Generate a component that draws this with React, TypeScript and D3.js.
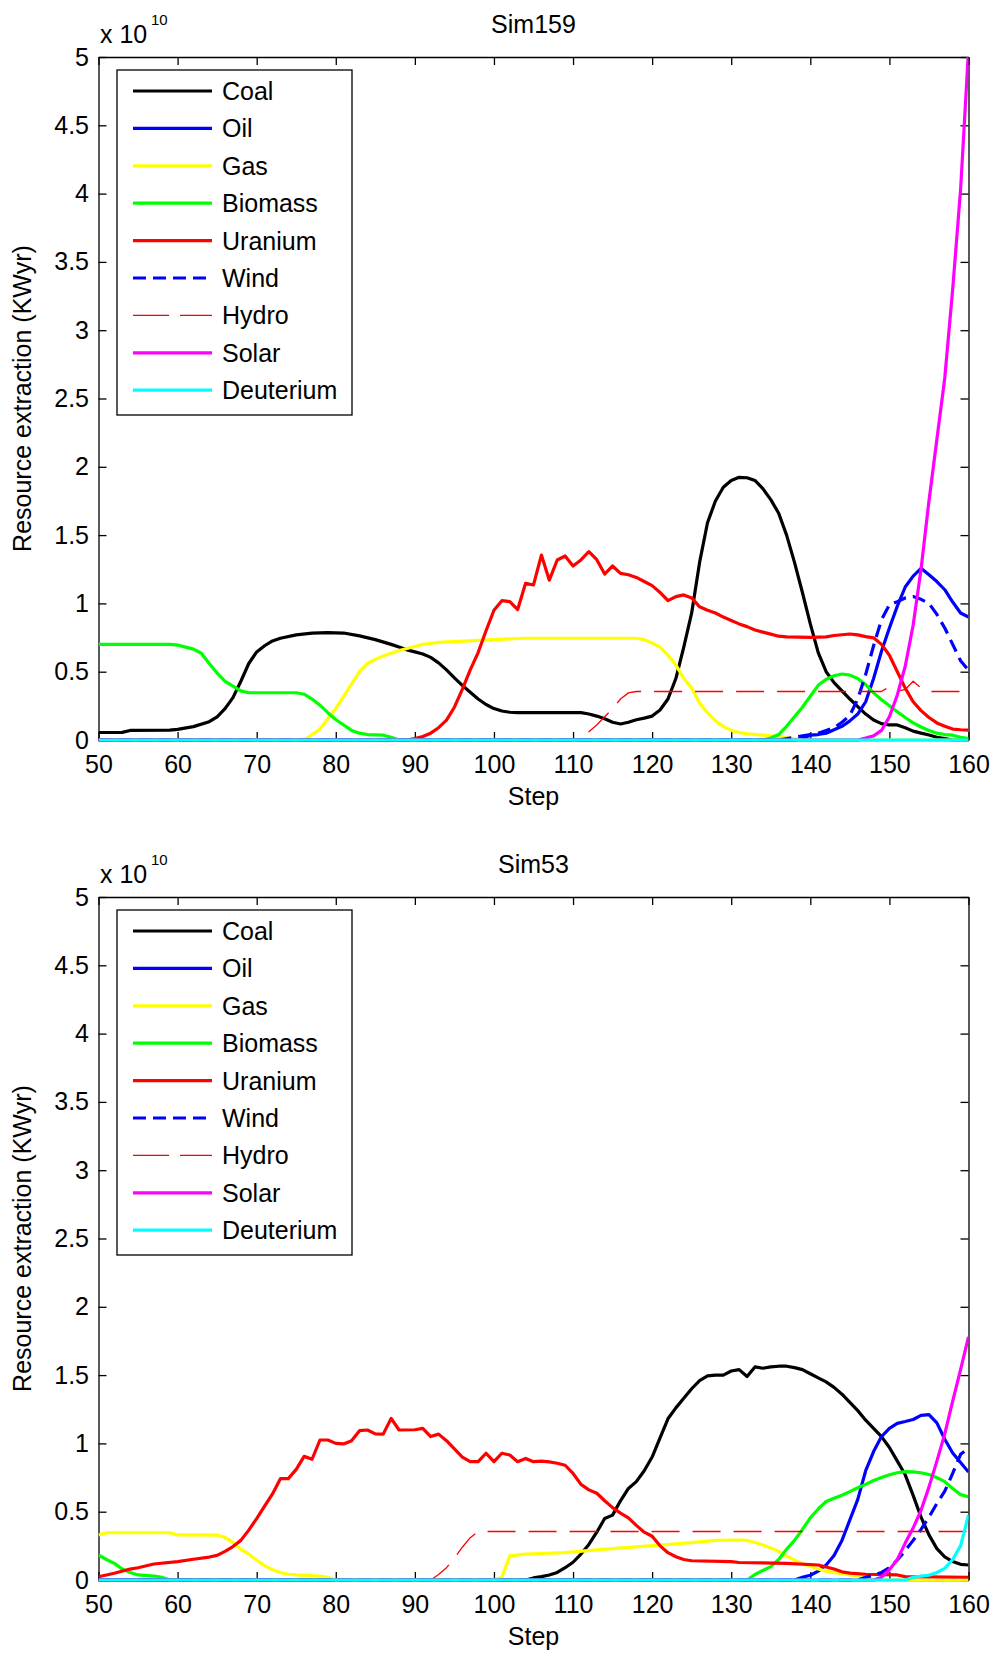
import * as d3 from "d3";
import { useRef, useEffect } from "react";

type Pt = [number, number];

const xTicks = [50, 60, 70, 80, 90, 100, 110, 120, 130, 140, 150, 160];
const yTicks = [0, 0.5, 1, 1.5, 2, 2.5, 3, 3.5, 4, 4.5, 5];
const seriesNames = ["Coal", "Oil", "Gas", "Biomass", "Uranium", "Wind", "Hydro", "Solar", "Deuterium"];

// ---- Sim159 (values in units of 1e10 KWyr) ----
const coal159: Pt[] = [[50,0.055],[53,0.056],[54,0.07],[59,0.072],[60,0.078],[62,0.098],[64,0.134],[65,0.17],[66,0.23],[67,0.31],[68,0.43],[69,0.56],[70,0.645],[71,0.69],[72,0.725],[73,0.745],[75,0.77],[77,0.782],[79,0.786],[81,0.783],[83,0.762],[85,0.735],[87,0.7],[88,0.68],[89,0.66],[90,0.645],[91,0.63],[92,0.605],[93,0.565],[94,0.513],[95,0.455],[96,0.4],[97,0.35],[98,0.3],[99,0.26],[100,0.23],[101,0.212],[102,0.203],[103,0.2],[111,0.2],[112,0.19],[113,0.175],[114,0.155],[115,0.13],[116,0.117],[117,0.13],[118,0.148],[119,0.16],[120,0.175],[121,0.22],[122,0.3],[123,0.45],[124,0.68],[125,0.93],[126,1.3],[127,1.59],[128,1.75],[129,1.85],[130,1.9],[131,1.923],[132,1.92],[133,1.9],[134,1.84],[135,1.76],[136,1.66],[137,1.5],[138,1.3],[139,1.08],[140,0.85],[141,0.64],[142,0.5],[143,0.42],[144,0.36],[145,0.3],[146,0.244],[147,0.19],[148,0.146],[149,0.12],[150,0.11],[151,0.11],[152,0.09],[153,0.065],[154,0.05],[155,0.037],[156,0.02],[157,0.01],[158,0],[160,0]];
const oil159: Pt[] = [[50,0],[138,0],[139,0.01],[140,0.035],[141,0.04],[142,0.05],[143,0.075],[144,0.1],[145,0.14],[146,0.19],[147,0.28],[148,0.45],[149,0.65],[150,0.82],[151,0.98],[152,1.12],[153,1.2],[154,1.257],[155,1.21],[156,1.16],[157,1.1],[158,1.01],[159,0.93],[160,0.9]];
const gas159: Pt[] = [[50,0],[76,0],[77,0.04],[78,0.08],[79,0.155],[80,0.23],[81,0.32],[82,0.41],[83,0.5],[84,0.56],[85,0.59],[86,0.615],[87,0.635],[88,0.655],[89,0.67],[90,0.685],[91,0.7],[93,0.715],[98,0.73],[104,0.745],[118,0.745],[119,0.735],[120,0.71],[121,0.68],[122,0.62],[123,0.55],[124,0.45],[125,0.38],[126,0.27],[127,0.2],[128,0.14],[129,0.1],[130,0.07],[131,0.055],[132,0.045],[134,0.035],[136,0.025],[138,0.01],[139,0],[160,0]];
const biomass159: Pt[] = [[50,0.7],[59,0.7],[60,0.695],[61,0.68],[62,0.665],[63,0.635],[64,0.56],[65,0.49],[66,0.43],[67,0.395],[68,0.36],[69,0.346],[75,0.346],[76,0.335],[77,0.3],[78,0.255],[79,0.2],[80,0.15],[81,0.11],[82,0.07],[83,0.05],[84,0.04],[86,0.035],[87,0.02],[88,0],[134,0],[135,0.015],[136,0.04],[137,0.1],[138,0.17],[139,0.24],[140,0.32],[141,0.4],[142,0.445],[143,0.47],[144,0.483],[145,0.475],[146,0.45],[147,0.405],[148,0.345],[149,0.295],[150,0.25],[151,0.207],[152,0.165],[153,0.125],[154,0.095],[155,0.07],[156,0.05],[157,0.04],[158,0.035],[159,0.02],[160,0.01]];
const uranium159: Pt[] = [[50,0],[89,0],[90,0.01],[91,0.025],[92,0.05],[93,0.09],[94,0.146],[95,0.24],[96,0.37],[97,0.513],[98,0.64],[99,0.8],[100,0.95],[101,1.02],[102,1.013],[103,0.955],[104,1.147],[105,1.135],[106,1.354],[107,1.17],[108,1.318],[109,1.347],[110,1.274],[111,1.318],[112,1.379],[113,1.32],[114,1.215],[115,1.274],[116,1.22],[117,1.21],[118,1.19],[119,1.16],[120,1.13],[121,1.08],[122,1.02],[123,1.05],[124,1.062],[125,1.04],[126,0.975],[127,0.95],[128,0.93],[129,0.9],[130,0.875],[131,0.85],[132,0.83],[133,0.805],[134,0.79],[135,0.775],[136,0.76],[137,0.755],[140,0.752],[142,0.755],[143,0.765],[145,0.776],[146,0.77],[147,0.757],[148,0.748],[149,0.7],[150,0.62],[151,0.5],[152,0.38],[153,0.28],[154,0.215],[155,0.165],[156,0.125],[157,0.1],[158,0.08],[159,0.075],[160,0.073]];
const wind159: Pt[] = [[50,0],[136,0],[138,0.02],[140,0.04],[141,0.05],[142,0.07],[143,0.09],[144,0.13],[145,0.18],[146,0.3],[147,0.48],[148,0.69],[149,0.88],[150,0.99],[151,1.013],[152,1.04],[153,1.05],[154,1.03],[155,1.0],[156,0.92],[157,0.82],[158,0.7],[159,0.58],[160,0.51]];
const hydro159: Pt[] = [[50,0],[110,0],[111,0.02],[112,0.06],[113,0.11],[114,0.17],[115,0.23],[116,0.3],[117,0.345],[118,0.355],[149,0.355],[150,0.39],[151,0.355],[152,0.37],[153,0.43],[154,0.38],[155,0.355],[160,0.355]];
const solar159: Pt[] = [[50,0],[146,0],[147,0.015],[148,0.03],[149,0.07],[150,0.17],[151,0.33],[152,0.54],[153,0.84],[154,1.25],[155,1.75],[156,2.2],[157,2.65],[158,3.3],[159,4.03],[160,5.05]];
const deuterium159: Pt[] = [[50,0],[160,0]];

// ---- Sim53 ----
const coal53: Pt[] = [[50,0],[104,0],[105,0.015],[106,0.025],[107,0.037],[108,0.055],[109,0.09],[110,0.13],[111,0.19],[112,0.26],[113,0.35],[114,0.45],[115,0.475],[116,0.58],[117,0.67],[118,0.72],[119,0.8],[120,0.9],[121,1.04],[122,1.18],[123,1.26],[124,1.33],[125,1.4],[126,1.46],[127,1.495],[128,1.5],[129,1.5],[130,1.53],[131,1.54],[132,1.49],[133,1.56],[134,1.55],[135,1.56],[136,1.565],[137,1.565],[138,1.555],[139,1.54],[140,1.51],[141,1.48],[142,1.45],[143,1.41],[144,1.36],[145,1.3],[146,1.24],[147,1.17],[148,1.11],[149,1.05],[150,0.97],[151,0.87],[152,0.77],[153,0.62],[154,0.46],[155,0.33],[156,0.23],[157,0.17],[158,0.135],[159,0.115],[160,0.11]];
const oil53: Pt[] = [[50,0],[138,0],[139,0.02],[140,0.035],[141,0.065],[142,0.11],[143,0.18],[144,0.29],[145,0.44],[146,0.59],[147,0.8],[148,0.94],[149,1.05],[150,1.11],[151,1.147],[152,1.16],[153,1.175],[154,1.205],[155,1.21],[156,1.15],[157,1.03],[158,0.93],[159,0.86],[160,0.79]];
const gas53: Pt[] = [[50,0.329],[51,0.346],[59,0.346],[60,0.33],[65,0.329],[66,0.312],[67,0.275],[68,0.225],[69,0.19],[70,0.145],[71,0.105],[72,0.075],[73,0.055],[74,0.042],[75,0.037],[78,0.029],[79,0.02],[80,0],[100,0],[101,0.02],[102,0.176],[104,0.19],[105,0.192],[109,0.2],[113,0.22],[117,0.239],[121,0.256],[125,0.273],[128,0.29],[131,0.293],[132,0.29],[133,0.275],[134,0.256],[135,0.235],[136,0.21],[137,0.175],[138,0.145],[139,0.12],[140,0.1],[141,0.08],[142,0.065],[143,0.055],[145,0.037],[147,0.02],[148,0],[160,0]];
const biomass53: Pt[] = [[50,0.183],[51,0.15],[52,0.122],[53,0.08],[54,0.055],[55,0.037],[57,0.029],[58,0.02],[59,0],[132,0],[133,0.04],[134,0.07],[135,0.098],[136,0.15],[137,0.225],[138,0.29],[139,0.37],[140,0.455],[141,0.52],[142,0.575],[143,0.598],[144,0.62],[145,0.647],[146,0.675],[147,0.7],[148,0.728],[149,0.75],[150,0.77],[151,0.785],[152,0.793],[153,0.792],[154,0.785],[155,0.772],[156,0.75],[157,0.72],[158,0.67],[159,0.625],[160,0.61]];
const uranium53: Pt[] = [[50,0.024],[52,0.049],[54,0.08],[55,0.09],[57,0.117],[60,0.134],[62,0.152],[64,0.168],[65,0.18],[66,0.21],[67,0.245],[68,0.29],[69,0.365],[70,0.45],[71,0.54],[72,0.63],[73,0.742],[74,0.742],[75,0.81],[76,0.905],[77,0.884],[78,1.025],[79,1.025],[80,1.0],[81,0.996],[82,1.02],[83,1.093],[84,1.098],[85,1.07],[86,1.068],[87,1.183],[88,1.098],[90,1.1],[91,1.11],[92,1.05],[93,1.068],[94,1.02],[95,0.96],[96,0.9],[97,0.866],[98,0.866],[99,0.928],[100,0.866],[101,0.928],[102,0.915],[103,0.866],[104,0.89],[105,0.866],[106,0.87],[107,0.865],[108,0.855],[109,0.84],[110,0.78],[111,0.7],[112,0.66],[113,0.635],[114,0.58],[115,0.53],[116,0.49],[117,0.455],[118,0.4],[119,0.35],[120,0.32],[121,0.25],[122,0.2],[123,0.17],[124,0.15],[125,0.141],[130,0.134],[131,0.128],[137,0.122],[141,0.11],[142,0.095],[143,0.08],[144,0.06],[145,0.05],[147,0.042],[151,0.037],[152,0.025],[160,0.02]];
const wind53: Pt[] = [[50,0],[146,0],[147,0.02],[148,0.035],[149,0.055],[150,0.09],[151,0.146],[152,0.215],[153,0.29],[154,0.37],[155,0.46],[156,0.56],[157,0.65],[158,0.78],[159,0.92],[160,0.965]];
const hydro53: Pt[] = [[50,0],[92,0],[93,0.04],[94,0.09],[95,0.16],[96,0.24],[97,0.31],[98,0.355],[160,0.355]];
const solar53: Pt[] = [[50,0],[148,0],[149,0.02],[150,0.075],[151,0.15],[152,0.27],[153,0.38],[154,0.51],[155,0.68],[156,0.87],[157,1.07],[158,1.31],[159,1.54],[160,1.78]];
const deuterium53: Pt[] = [[50,0],[152,0],[153,0.02],[154,0.028],[155,0.035],[156,0.055],[157,0.085],[158,0.15],[159,0.25],[160,0.476]];

const STYLES: Record<string, { color: string; width: number; dash: string | null; legendDash: string | null }> = {
  Coal: { color: "#000000", width: 3.2, dash: null, legendDash: null },
  Oil: { color: "#0000ff", width: 3.2, dash: null, legendDash: null },
  Gas: { color: "#ffff00", width: 3.2, dash: null, legendDash: null },
  Biomass: { color: "#00ff00", width: 3.2, dash: null, legendDash: null },
  Uranium: { color: "#ff0000", width: 3.2, dash: null, legendDash: null },
  Wind: { color: "#0000ff", width: 3.2, dash: "13,7", legendDash: "13,7" },
  Hydro: { color: "#ff0000", width: 1.3, dash: "28,13", legendDash: "36,11" },
  Solar: { color: "#ff00ff", width: 3.2, dash: null, legendDash: null },
  Deuterium: { color: "#00ffff", width: 3.2, dash: null, legendDash: null },
};

const FONT = "'Liberation Sans', Arial, Helvetica, sans-serif";
const plot = { left: 98.5, right: 968.5, top: 57, bottom: 740 };

const Panel = ({ id, title, series, offsetY }: { id: string; title: string; series: Pt[][]; offsetY: number }) => {
  const ref = useRef<SVGGElement>(null);

  useEffect(() => {
    const g = d3.select(ref.current);
    g.selectAll("*").remove();

    const x = d3.scaleLinear().domain([50, 160]).range([plot.left, plot.right]);
    const y = d3.scaleLinear().domain([0, 5]).range([plot.bottom, plot.top]);

    g.append("rect")
      .attr("x", plot.left).attr("y", plot.top)
      .attr("width", plot.right - plot.left).attr("height", plot.bottom - plot.top)
      .attr("fill", "#fff");

    // axes, ticks point inwards on all four sides
    const styleAxis = (a: any) => {
      a.attr("font-size", 25).attr("font-family", FONT);
      a.selectAll("path,line").attr("stroke", "#000").attr("stroke-width", 1.3);
      a.selectAll("text").attr("fill", "#000");
    };
    g.append("g").attr("transform", `translate(0,${plot.bottom})`)
      .call(d3.axisBottom(x).tickValues(xTicks).tickSizeInner(-8).tickSizeOuter(0).tickPadding(15))
      .call(styleAxis);
    g.append("g").attr("transform", `translate(${plot.left},0)`)
      .call(d3.axisLeft(y).tickValues(yTicks).tickFormat(d3.format("")).tickSizeInner(-8).tickSizeOuter(0).tickPadding(9.5))
      .call(styleAxis);
    g.append("g").attr("transform", `translate(0,${plot.top})`)
      .call(d3.axisTop(x).tickValues(xTicks).tickFormat(() => "").tickSizeInner(-8).tickSizeOuter(0))
      .call(styleAxis);
    g.append("g").attr("transform", `translate(${plot.right},0)`)
      .call(d3.axisRight(y).tickValues(yTicks).tickFormat(() => "").tickSizeInner(-8).tickSizeOuter(0))
      .call(styleAxis);

    // labels
    g.append("text").attr("x", (plot.left + plot.right) / 2).attr("y", 33)
      .attr("text-anchor", "middle").attr("font-size", 25).attr("font-family", FONT).text(title);
    g.append("text").attr("x", (plot.left + plot.right) / 2).attr("y", 805)
      .attr("text-anchor", "middle").attr("font-size", 25).attr("font-family", FONT).text("Step");
    g.append("text").attr("transform", `translate(31,${(plot.top + plot.bottom) / 2}) rotate(-90)`)
      .attr("text-anchor", "middle").attr("font-size", 25).attr("font-family", FONT)
      .text("Resource extraction (KWyr)");
    g.append("text").attr("x", 100).attr("y", 43)
      .attr("font-size", 25).attr("font-family", FONT).text("x 10");
    g.append("text").attr("x", 151).attr("y", 25)
      .attr("font-size", 15).attr("font-family", FONT).text("10");

    // lines
    g.append("defs").append("clipPath").attr("id", id)
      .append("rect")
      .attr("x", plot.left).attr("y", plot.top)
      .attr("width", plot.right - plot.left).attr("height", plot.bottom - plot.top + 3);

    const line = d3.line<Pt>().x((d) => x(d[0])).y((d) => y(d[1]));
    const lines = g.append("g").attr("clip-path", `url(#${id})`);
    seriesNames.forEach((name, i) => {
      const st = STYLES[name];
      lines.append("path")
        .datum(series[i])
        .attr("d", line)
        .attr("fill", "none")
        .attr("stroke", st.color)
        .attr("stroke-width", st.width)
        .attr("stroke-linejoin", "round")
        .attr("stroke-dasharray", st.dash);
    });

    // legend
    const lg = g.append("g");
    lg.append("rect")
      .attr("x", 117).attr("y", 70).attr("width", 235).attr("height", 345)
      .attr("fill", "#fff").attr("stroke", "#000").attr("stroke-width", 1.3);
    seriesNames.forEach((name, i) => {
      const st = STYLES[name];
      const cy = 91 + i * 37.4;
      lg.append("line")
        .attr("x1", 133).attr("x2", 212).attr("y1", cy).attr("y2", cy)
        .attr("stroke", st.color).attr("stroke-width", st.width)
        .attr("stroke-dasharray", st.legendDash);
      lg.append("text")
        .attr("x", 222).attr("y", cy).attr("dy", "0.36em")
        .attr("font-size", 25).attr("font-family", FONT).text(name);
    });
  }, [id, title, series]);

  return <g ref={ref} transform={`translate(0,${offsetY})`} />;
};

const sim159 = [coal159, oil159, gas159, biomass159, uranium159, wind159, hydro159, solar159, deuterium159];
const sim53 = [coal53, oil53, gas53, biomass53, uranium53, wind53, hydro53, solar53, deuterium53];

export default function App() {
  return (
    <svg width={993} height={1654} style={{ position: "absolute", left: 0, top: 0, background: "#fff" }}>
      <Panel id="clip-sim159" title="Sim159" series={sim159} offsetY={0} />
      <Panel id="clip-sim53" title="Sim53" series={sim53} offsetY={840} />
    </svg>
  );
}
